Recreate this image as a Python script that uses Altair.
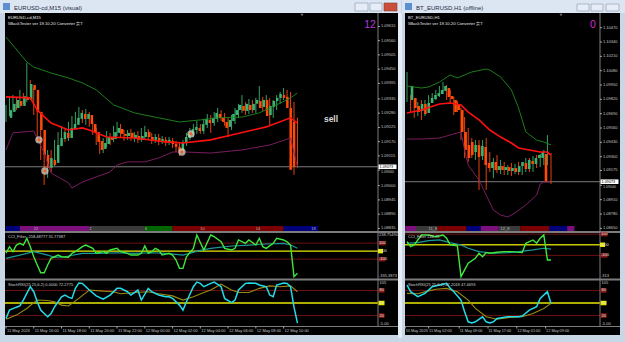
import altair as alt
import pandas as pd

# ======================= DATA =======================
# ---- left window: EURUSD-cd, M15 (bar 0 = 11 May 2023 14:00) ----
L_open = [1.09262, 1.09285, 1.09300, 1.09327, 1.09308, 1.09343, 1.09331, 1.09389, 1.09370, 1.09285,
          1.09215, 1.09119, 1.09069, 1.09099, 1.09088, 1.09153, 1.09180, 1.09204, 1.09184, 1.09219,
          1.09235, 1.09258, 1.09277, 1.09258, 1.09273, 1.09238, 1.09207, 1.09173, 1.09142, 1.09161,
          1.09188, 1.09180, 1.09204, 1.09219, 1.09200, 1.09192, 1.09204, 1.09184, 1.09192, 1.09177,
          1.09188, 1.09207, 1.09188, 1.09177, 1.09184, 1.09173, 1.09177, 1.09169, 1.09173, 1.09161,
          1.09150, 1.09134, 1.09165, 1.09184, 1.09200, 1.09215, 1.09223, 1.09211, 1.09235, 1.09254,
          1.09242, 1.09258, 1.09277, 1.09262, 1.09246, 1.09227, 1.09250, 1.09273, 1.09292, 1.09308,
          1.09289, 1.09312, 1.09292, 1.09316, 1.09327, 1.09304, 1.09331, 1.09273, 1.09304, 1.09327,
          1.09339, 1.09350, 1.09343, 1.09300, 1.09246]
L_high = [1.09312, 1.09339, 1.09350, 1.09343, 1.09370, 1.09358, 1.09474, 1.09408, 1.09377, 1.09300,
          1.09223, 1.09177, 1.09138, 1.09138, 1.09177, 1.09207, 1.09231, 1.09223, 1.09246, 1.09269,
          1.09285, 1.09304, 1.09292, 1.09296, 1.09285, 1.09250, 1.09223, 1.09188, 1.09184, 1.09211,
          1.09204, 1.09231, 1.09246, 1.09238, 1.09215, 1.09215, 1.09219, 1.09207, 1.09211, 1.09223,
          1.09231, 1.09219, 1.09204, 1.09200, 1.09200, 1.09192, 1.09188, 1.09188, 1.09184, 1.09173,
          1.09165, 1.09177, 1.09204, 1.09223, 1.09238, 1.09250, 1.09238, 1.09258, 1.09277, 1.09273,
          1.09285, 1.09300, 1.09292, 1.09281, 1.09262, 1.09273, 1.09300, 1.09316, 1.09350, 1.09323,
          1.09335, 1.09331, 1.09339, 1.09385, 1.09343, 1.09350, 1.09339, 1.09331, 1.09350, 1.09362,
          1.09377, 1.09370, 1.09362, 1.09323, 1.09262]
L_low = [1.09246, 1.09269, 1.09292, 1.09292, 1.09300, 1.09316, 1.09323, 1.09346, 1.09273, 1.09169,
         1.09099, 1.09003, 1.09030, 1.09053, 1.09076, 1.09138, 1.09169, 1.09169, 1.09173, 1.09204,
         1.09223, 1.09246, 1.09242, 1.09235, 1.09227, 1.09196, 1.09157, 1.09123, 1.09126, 1.09150,
         1.09157, 1.09169, 1.09192, 1.09184, 1.09173, 1.09177, 1.09173, 1.09169, 1.09165, 1.09169,
         1.09177, 1.09177, 1.09161, 1.09165, 1.09157, 1.09161, 1.09153, 1.09157, 1.09146, 1.09130,
         1.09115, 1.09123, 1.09153, 1.09177, 1.09188, 1.09200, 1.09200, 1.09200, 1.09223, 1.09204,
         1.09231, 1.09246, 1.09250, 1.09231, 1.09188, 1.09215, 1.09238, 1.09262, 1.09281, 1.09273,
         1.09277, 1.09281, 1.09281, 1.09300, 1.09289, 1.09292, 1.09231, 1.09262, 1.09292, 1.09316,
         1.09331, 1.09316, 1.09285, 1.09042, 1.09069]
L_close = [1.09292, 1.09316, 1.09331, 1.09308, 1.09346, 1.09331, 1.09393, 1.09370, 1.09285, 1.09215,
           1.09119, 1.09069, 1.09107, 1.09080, 1.09157, 1.09184, 1.09207, 1.09184, 1.09223, 1.09238,
           1.09262, 1.09281, 1.09258, 1.09277, 1.09238, 1.09207, 1.09169, 1.09138, 1.09165, 1.09188,
           1.09177, 1.09207, 1.09223, 1.09200, 1.09192, 1.09204, 1.09184, 1.09196, 1.09177, 1.09192,
           1.09207, 1.09188, 1.09177, 1.09188, 1.09173, 1.09180, 1.09169, 1.09177, 1.09161, 1.09150,
           1.09134, 1.09165, 1.09188, 1.09200, 1.09219, 1.09227, 1.09211, 1.09238, 1.09258, 1.09242,
           1.09262, 1.09281, 1.09262, 1.09246, 1.09223, 1.09254, 1.09277, 1.09292, 1.09312, 1.09289,
           1.09316, 1.09292, 1.09316, 1.09331, 1.09300, 1.09331, 1.09269, 1.09308, 1.09327, 1.09339,
           1.09354, 1.09339, 1.09300, 1.09061, 1.09073]

L_ma_idx = [0, 7, 9, 12, 13, 18, 22, 24, 29, 37, 46, 51, 59, 65, 75, 82, 84]
L_ma_val = [1.09343, 1.09339, 1.09292, 1.09254, 1.09242, 1.09215, 1.09223, 1.09215, 1.09188, 1.09184,
            1.09169, 1.09165, 1.09177, 1.09196, 1.09227, 1.09262, 1.09242]
L_up_idx = [0, 6, 8, 13, 18, 22, 26, 31, 37, 44, 50, 56, 61, 68, 73, 79, 82, 84]
L_up_val = [1.09574, 1.09478, 1.09458, 1.09435, 1.09416, 1.09397, 1.09370, 1.09312, 1.09281, 1.09262,
            1.09246, 1.09254, 1.09262, 1.09265, 1.09281, 1.09319, 1.09339, 1.09358]
L_lo_idx = [0, 2, 8, 11, 13, 18, 19, 22, 26, 30, 32, 35, 40, 44, 48, 52, 59, 68, 76, 82, 84]
L_lo_val = [1.09138, 1.09204, 1.09211, 1.09126, 1.09049, 1.09011, 1.08991, 1.09014, 1.09034, 1.09053,
            1.09080, 1.09092, 1.09092, 1.09107, 1.09130, 1.09130, 1.09126, 1.09138, 1.09157, 1.09184, 1.09072]
L_sig_idx = [9.5, 11.2, 50.7, 53.3]
L_sig_val = [1.09177, 1.09057, 1.09130, 1.09200]

L_cci_idx = [0, 1, 2, 3, 4, 5, 6, 7, 8, 9, 10, 11, 12, 13, 15, 16, 18, 19, 20, 22, 23, 25, 26, 28, 29, 30,
             32, 33, 35, 36, 38, 39, 40, 41, 42, 43, 44, 45, 47, 48, 49, 50, 51, 52, 54, 55, 56, 57, 59, 60,
             62, 63, 65, 66, 67, 69, 70, 72, 73, 74, 75, 77, 78, 80, 81, 82, 83, 84]
L_cci_val = [-27, 55, -7, 76, 97, 76, 160, 55, -70, -173, -270, -270, -173, -90, -49, -70, -77, -27, -7, 55,
             76, 35, -27, -7, -27, 14, 35, -7, -27, -49, -49, -27, 64, -27, -7, 35, 14, -49, -27, -49,
             -111, -215, -215, -70, 35, 201, 107, 14, 201, 180, 117, 35, 14, 35, 139, 97, 139, 76, 160, 55,
             35, 97, 160, 139, 117, 76, -319, -277]
L_cma_idx = [0, 4, 8, 12, 14, 17, 22, 27, 32, 37, 42, 46, 51, 56, 59, 65, 70, 75, 80, 82, 84]
L_cma_val = [-90, -49, -7, -49, -77, -70, -27, -27, -20, -27, -20, -27, -49, 10, 35, 64, 76, 89, 97, 76, 35]

L_st_idx = [0, 1, 3, 4, 5, 6, 7, 8, 9, 10, 12, 13, 14, 16, 17, 18, 19, 20, 21, 22, 24, 26, 28, 30, 32, 33,
            35, 36, 38, 39, 41, 42, 44, 46, 47, 48, 49, 50, 51, 52, 54, 55, 56, 57, 59, 60, 62, 63, 65, 66,
            67, 69, 70, 72, 73, 75, 76, 77, 78, 80, 81, 82, 83, 84]
L_st_val = [13, 33, 40, 43, 57, 73, 89, 77, 53, 33, 17, 25, 41, 65, 69, 64, 61, 85, 98, 97, 81, 67, 59, 69,
            85, 85, 77, 69, 81, 57, 85, 77, 69, 65, 65, 61, 53, 45, 33, 53, 89, 100, 97, 89, 97, 100, 89,
            61, 51, 57, 81, 97, 98, 97, 93, 89, 69, 65, 93, 98, 97, 89, 40, 2]
L_ss_idx = [0, 3, 6, 8, 9, 12, 14, 16, 18, 21, 24, 27, 31, 33, 37, 41, 44, 48, 51, 54, 57, 59, 62, 65, 67,
            70, 73, 76, 79, 82, 84]
L_ss_val = [11, 21, 37, 51, 57, 56, 53, 45, 43, 61, 81, 79, 77, 72, 75, 77, 72, 67, 57, 65, 75, 81, 95, 81,
            75, 75, 85, 91, 89, 91, 77]

L_band_start = [0, 4, 24, 40, 48, 80]
L_band_end = [4, 24, 40, 48, 80, 90]
L_band_name = ["NY late", "Asia", "Asia quiet", "EU open", "EU", "NY"]
L_band_lab_idx = [8, 24, 40, 56, 72, 88]
L_band_lab = ["22", "2", "6", "10", "14", "18"]

L_time_idx = [0, 8, 16, 24, 32, 40, 48, 56, 64, 72, 80]
L_time_lab = ["11 May 2023", "11 May 16:00", "11 May 18:00", "11 May 20:00", "11 May 22:00",
              "12 May 00:00", "12 May 02:00", "12 May 04:00", "12 May 06:00", "12 May 08:00", "12 May 10:00"]
L_price_ticks = [1.09615, 1.09560, 1.09505, 1.09450, 1.09395, 1.09335, 1.09280, 1.09225, 1.09170,
                 1.09115, 1.09000, 1.08945, 1.08890, 1.08835]
L_price_near_last = [1.09060]

# ---- right window: BT_EURUSD, H1 (offline) ----
R_open = [1.09814, 1.09832, 1.09760, 1.09714, 1.09778, 1.09696, 1.09787, 1.09823, 1.09850, 1.09868,
          1.09896, 1.09923, 1.09850, 1.09814, 1.09778, 1.09723, 1.09524, 1.09406, 1.09433, 1.09342,
          1.09406, 1.09306, 1.09388, 1.09243, 1.09197, 1.09252, 1.09179, 1.09215, 1.09179, 1.09206,
          1.09170, 1.09197, 1.09161, 1.09215, 1.09243, 1.09188, 1.09261, 1.09234, 1.09288, 1.09288,
          1.09324]
R_high = [1.10068, 1.09859, 1.09814, 1.09796, 1.09814, 1.09814, 1.09859, 1.09877, 1.09905, 1.09941,
          1.09977, 1.09950, 1.09905, 1.09841, 1.09805, 1.09741, 1.09660, 1.09560, 1.09469, 1.09451,
          1.09451, 1.09451, 1.09469, 1.09342, 1.09288, 1.09315, 1.09270, 1.09252, 1.09224, 1.09243,
          1.09234, 1.09252, 1.09234, 1.09288, 1.09288, 1.09306, 1.09315, 1.09324, 1.09361, 1.09496,
          1.09333]
R_low = [1.09796, 1.09705, 1.09651, 1.09669, 1.09633, 1.09669, 1.09760, 1.09787, 1.09814, 1.09841,
         1.09868, 1.09814, 1.09787, 1.09678, 1.09705, 1.09451, 1.09288, 1.09252, 1.09288, 1.09270,
         1.08998, 1.09270, 1.08998, 1.09161, 1.09107, 1.09152, 1.09143, 1.09134, 1.09134, 1.09125,
         1.09143, 1.09134, 1.09134, 1.09161, 1.09161, 1.09161, 1.09197, 1.09206, 1.09224, 1.09224,
         1.09052]
R_close = [1.09941, 1.09741, 1.09705, 1.09778, 1.09687, 1.09787, 1.09832, 1.09859, 1.09877, 1.09905,
           1.09941, 1.09841, 1.09823, 1.09705, 1.09723, 1.09524, 1.09361, 1.09288, 1.09315, 1.09406,
           1.09297, 1.09397, 1.09224, 1.09197, 1.09252, 1.09179, 1.09215, 1.09179, 1.09206, 1.09170,
           1.09197, 1.09161, 1.09215, 1.09252, 1.09188, 1.09270, 1.09234, 1.09288, 1.09315, 1.09342,
           1.09073]

R_ma_idx = [0, 4, 9, 12, 15, 17, 20, 23, 26, 29, 31, 34, 37, 39, 40]
R_ma_val = [1.09696, 1.09723, 1.09778, 1.09787, 1.09769, 1.09705, 1.09633, 1.09542, 1.09478, 1.09424,
            1.09379, 1.09361, 1.09342, 1.09342, 1.09315]
R_up_idx = [0, 4, 6, 9, 12, 14, 18, 22, 23, 26, 29, 31, 33, 36, 38, 40]
R_up_val = [1.09941, 1.09923, 1.09932, 1.09977, 1.10041, 1.10014, 1.10068, 1.10095, 1.10086, 1.10023,
            1.09905, 1.09741, 1.09524, 1.09451, 1.09433, 1.09406]
R_lo_idx = [0, 4, 9, 13, 15, 16, 17, 20, 22, 24, 26, 28, 30, 33, 36, 37, 38, 40]
R_lo_val = [1.09460, 1.09460, 1.09469, 1.09506, 1.09524, 1.09361, 1.09224, 1.09088, 1.08952, 1.08816,
            1.08771, 1.08753, 1.08789, 1.08862, 1.08952, 1.09052, 1.09070, 1.09070]

R_cci_idx = [0, 1, 2, 3, 4, 6, 8, 10, 11, 12, 14, 15, 16, 17, 19, 20, 21, 22, 23, 25, 27, 29, 32, 33, 35,
             36, 37, 38, 39, 40]
R_cci_val = [29, -18, -2, 45, 92, 92, 76, 92, 61, -2, -11, -300, -237, -174, -127, -80, -112, -74, -80,
             -70, -65, -65, -74, 14, 45, 14, 61, 92, -143, -143]
R_cma_idx = [0, 3, 6, 9, 12, 15, 17, 20, 24, 28, 31, 35, 38, 40]
R_cma_val = [14, 20, 39, 45, 20, -2, -33, -65, -80, -74, -65, -49, -33, -42]

R_st_idx = [0, 1, 3, 5, 7, 9, 11, 12, 13, 15, 16, 17, 18, 19, 21, 22, 23, 24, 25, 28, 31, 32, 34, 36, 37,
            39, 40]
R_st_val = [93, 77, 65, 73, 89, 93, 97, 85, 77, 57, 29, 5, 2, 5, 17, 5, 2, 5, 13, 17, 17, 19, 33, 41, 61,
            77, 49]
R_ss_idx = [0, 3, 6, 8, 11, 14, 17, 19, 22, 25, 29, 32, 35, 38, 40]
R_ss_val = [73, 72, 79, 83, 85, 77, 57, 37, 17, 11, 16, 17, 25, 37, 49]

R_band_start = [-0.5, 2.5, 8.5, 16.5, 20.5, 25.5, 31.5, 39.5, 44.5]
R_band_end = [2.5, 8.5, 16.5, 20.5, 25.5, 31.5, 39.5, 44.5, 46.5]
R_band_name = ["Asia", "Asia quiet", "EU", "NY", "Asia", "Asia quiet", "EU", "NY", "Asia"]
R_band_lab_idx = [6.0, 26.0]
R_band_lab = ["11_8", "12_8"]

R_time_idx = [-0.5, 6, 14.5, 22.5, 30.5, 38.5]
R_time_lab = ["10 May 2023", "11 May 02:00", "11 May 09:00", "11 May 17:00", "12 May 01:00", "12 May 09:00"]
R_price_ticks = [1.10470, 1.10340, 1.10210, 1.10080, 1.09950, 1.09820, 1.09690, 1.09560, 1.09430,
                 1.09300, 1.09175, 1.08910, 1.08780, 1.08650]
R_price_near_last = [1.09040]

LAST_PRICE = 1.09073
CCI_LEVELS = [100, 0, -100]
ST_LEVELS = [80, 50, 20]

# ======================= STYLE =======================
FONT = "Liberation Sans"
BULL, BEAR = "#3cb371", "#ff4a0a"
SESS_DOM = ["NY late", "Asia", "Asia quiet", "EU open", "EU", "NY"]
SESS_RNG = ["#00007a", "#7d0f7d", "#3a3a3a", "#006400", "#7d0000", "#00007a"]
ONE = pd.DataFrame({"k": [0]})


def sc(dom, rng):
    return alt.Scale(domain=dom, range=rng, nice=False, zero=False)


LX = sc([0, 100], [6, 353])
RX = sc([0, 40], [407, 551])
LP = sc([1.08825, 1.09663], [231, 14])
RP = sc([1.08626, 1.10594], [231, 14])
LC = sc([-335.39, 238.75], [278, 232])
RC = sc([-313, 120], [278, 232])
LS = sc([-5, 105], [326, 280])
RS = sc([-5, 105], [326, 280])


def rect(x1, x2, y1, y2, fill, stroke=None):
    kw = {"fill": fill}
    if stroke:
        kw.update(stroke=stroke, strokeWidth=0.6)
    return alt.Chart(ONE).mark_rect(**kw).encode(
        x=alt.value(x1), x2=alt.value(x2), y=alt.value(y1), y2=alt.value(y2))


def txt(s, x, y, color, size, align="left", weight="normal"):
    return alt.Chart(ONE).mark_text(text=s, color=color, fontSize=size, align=align, baseline="middle",
                                    fontWeight=weight, font=FONT).encode(x=alt.value(x), y=alt.value(y))


def candles(o, h, l, c, xs, ys, width):
    df = pd.DataFrame({"i": list(range(len(o))), "o": o, "h": h, "l": l, "c": c})
    col = alt.condition("datum.c >= datum.o", alt.value(BULL), alt.value(BEAR))
    base = alt.Chart(df).encode(x=alt.X("i:Q", scale=xs, axis=None), color=col)
    wick = base.mark_rule(strokeWidth=0.9).encode(y=alt.Y("l:Q", scale=ys, axis=None), y2="h:Q")
    body = base.mark_bar(size=width).encode(y=alt.Y("o:Q", scale=ys, axis=None), y2="c:Q")
    return [wick, body]


def line(idx, val, xs, ys, color, width):
    df = pd.DataFrame({"i": idx, "v": val})
    return alt.Chart(df).mark_line(color=color, strokeWidth=width, interpolate="linear").encode(
        x=alt.X("i:Q", scale=xs, axis=None), y=alt.Y("v:Q", scale=ys, axis=None))


def hrule(vals, ys, x1, x2, color, width):
    df = pd.DataFrame({"v": vals})
    return alt.Chart(df).mark_rule(color=color, strokeWidth=width).encode(
        y=alt.Y("v:Q", scale=ys, axis=None), x=alt.value(x1), x2=alt.value(x2))


def ylabels(vals, texts, ys, x, color, size, dy=0):
    df = pd.DataFrame({"v": vals, "t": texts})
    return alt.Chart(df).mark_text(align="left", baseline="middle", fontSize=size, color=color,
                                   font=FONT, dy=dy).encode(
        y=alt.Y("v:Q", scale=ys, axis=None), x=alt.value(x), text="t:N")


def ybox(vals, ys, xc, w, h, color):
    r = h / w
    path = f"M-1,-{r:.3f}L1,-{r:.3f}L1,{r:.3f}L-1,{r:.3f}Z"
    df = pd.DataFrame({"v": vals})
    return alt.Chart(df).mark_point(shape=path, size=w * w, filled=True, color=color, opacity=1).encode(
        y=alt.Y("v:Q", scale=ys, axis=None), x=alt.value(xc))


def yticks(vals, ys, x1, x2, color):
    df = pd.DataFrame({"v": vals})
    return alt.Chart(df).mark_rule(color=color, strokeWidth=0.8).encode(
        y=alt.Y("v:Q", scale=ys, axis=None), x=alt.value(x1), x2=alt.value(x2))


def xlabels(idx, texts, xs, y, color, size, dx=1):
    df = pd.DataFrame({"i": idx, "t": texts})
    return alt.Chart(df).mark_text(align="left", baseline="middle", fontSize=size, color=color,
                                   font=FONT, dx=dx).encode(
        x=alt.X("i:Q", scale=xs, axis=None), y=alt.value(y), text="t:N")


def xticks(idx, xs, y1, y2, color):
    df = pd.DataFrame({"i": idx})
    return alt.Chart(df).mark_rule(color=color, strokeWidth=0.8).encode(
        x=alt.X("i:Q", scale=xs, axis=None), y=alt.value(y1), y2=alt.value(y2))


def band(starts, ends, names, xs, y1, y2):
    df = pd.DataFrame({"s": starts, "e": ends, "n": names})
    return alt.Chart(df).mark_rect().encode(
        x=alt.X("s:Q", scale=xs, axis=None), x2="e:Q", y=alt.value(y1), y2=alt.value(y2),
        color=alt.Color("n:N", scale=alt.Scale(domain=SESS_DOM, range=SESS_RNG), legend=None))


def dots(idx, val, xs, ys):
    df = pd.DataFrame({"i": idx, "v": val})
    b = alt.Chart(df).encode(x=alt.X("i:Q", scale=xs, axis=None), y=alt.Y("v:Q", scale=ys, axis=None))
    return [b.mark_circle(size=55, color="#d8d2c8", opacity=0.75),
            b.mark_circle(size=8, color="#ff5a1a", opacity=1)]


layers = []
# ---------- window chrome ----------
layers += [
    rect(0, 401, 0, 13, "#dce6f2"), rect(402, 625, 0, 13, "#dce6f2"),
    rect(3, 10, 3, 10, "#5b8fcf"), rect(405, 412, 3, 10, "#5b8fcf"),
    txt("EURUSD-cd,M15 (visual)", 14, 7.5, "#1e2d44", 6),
    txt("BT_EURUSD,H1 (offline)", 416, 7.5, "#1e2d44", 6),
    rect(355, 368, 3, 11, "#e6edf6", "#8797ad"), rect(370, 382, 3, 11, "#e6edf6", "#8797ad"),
    rect(384, 397, 3, 11, "#c94f3a", "#8a3a2c"),
    rect(577, 589, 4, 11, "#e6edf6", "#8797ad"), rect(591, 603, 4, 11, "#e6edf6", "#8797ad"),
    rect(606, 619, 4, 11, "#e6edf6", "#8797ad"),
    rect(398, 402, 13, 338, "#e6edf5"),
    rect(5, 398, 13, 335, "#000000"), rect(405, 620, 13, 335, "#000000"),
]

# ---------- session colour bands ----------
layers += [band(L_band_start, L_band_end, L_band_name, LX, 226, 231),
           band(R_band_start, R_band_end, R_band_name, RX, 226, 231),
           xlabels(L_band_lab_idx, L_band_lab, LX, 228.5, "#bbbbbb", 4, dx=0),
           xlabels(R_band_lab_idx, R_band_lab, RX, 228.5, "#bbbbbb", 4, dx=0)]

# ---------- indicator levels ----------
layers += [
    hrule([100, -100], LC, 5, 378, "#701010", 1), hrule([0], LC, 5, 378, "#e8e800", 1.3),
    hrule([80, 20], LS, 5, 378, "#701010", 1), hrule([50], LS, 5, 378, "#e8e800", 1.3),
    hrule([100, -100], RC, 405, 600, "#701010", 1), hrule([0], RC, 405, 600, "#c8c800", 1.3),
    hrule([80, 20], RS, 405, 600, "#701010", 1), hrule([50], RS, 405, 600, "#e8e800", 1.3),
    hrule([LAST_PRICE], LP, 5, 378, "#8a8a8a", 0.9), hrule([LAST_PRICE], RP, 405, 600, "#8a8a8a", 0.9),
]

# ---------- price charts ----------
layers += candles(L_open, L_high, L_low, L_close, LX, LP, 2.5)
layers += candles(R_open, R_high, R_low, R_close, RX, RP, 2.6)
layers += [
    line(L_up_idx, L_up_val, LX, LP, "#1f8a1f", 0.9),
    line(L_lo_idx, L_lo_val, LX, LP, "#86206a", 0.9),
    line(L_ma_idx, L_ma_val, LX, LP, "#ff1010", 1.6),
    line(R_up_idx, R_up_val, RX, RP, "#1f8a1f", 0.9),
    line(R_lo_idx, R_lo_val, RX, RP, "#86206a", 0.9),
    line(R_ma_idx, R_ma_val, RX, RP, "#ff1010", 1.6),
]
layers += dots(L_sig_idx, L_sig_val, LX, LP)

# ---------- CCI / StochRSI ----------
layers += [
    line(L_cma_idx, L_cma_val, LX, LC, "#1a9a9a", 1.2),
    line(L_cci_idx, L_cci_val, LX, LC, "#3ee83e", 1.4),
    line(L_ss_idx, L_ss_val, LX, LS, "#9a8a10", 1.1),
    line(L_st_idx, L_st_val, LX, LS, "#22dcea", 1.5),
    line(R_cma_idx, R_cma_val, RX, RC, "#1a9a9a", 1.2),
    line(R_cci_idx, R_cci_val, RX, RC, "#3ee83e", 1.4),
    line(R_ss_idx, R_ss_val, RX, RS, "#9a8a10", 1.1),
    line(R_st_idx, R_st_val, RX, RS, "#22dcea", 1.5),
]

# ---------- separators & axis lines ----------
layers += [
    rect(5, 398, 231, 233, "#7c7c7c"), rect(5, 398, 278.5, 280.5, "#7c7c7c"),
    rect(5, 398, 326, 327, "#7c7c7c"),
    rect(405, 620, 231, 233, "#7c7c7c"), rect(405, 620, 278.5, 280.5, "#7c7c7c"),
    rect(405, 620, 326, 327, "#7c7c7c"),
    rect(377.5, 378.5, 13, 327, "#7c7c7c"), rect(599.5, 600.5, 13, 327, "#7c7c7c"),
]

# ---------- price axes ----------
GREY = "#c8c8c8"
layers += [
    yticks(L_price_ticks + L_price_near_last, LP, 378, 380, GREY),
    ylabels(L_price_ticks, [f"{v:.5f}" for v in L_price_ticks], LP, 381, GREY, 4),
    ylabels(L_price_near_last, [f"{v:.5f}" for v in L_price_near_last], LP, 381, GREY, 3.6, dy=1.8),
    yticks(R_price_ticks + R_price_near_last, RP, 600, 602, GREY),
    ylabels(R_price_ticks, [f"{v:.5f}" for v in R_price_ticks], RP, 603, GREY, 4),
    ylabels(R_price_near_last, [f"{v:.5f}" for v in R_price_near_last], RP, 603, GREY, 3.6, dy=1.8),
    ybox([LAST_PRICE], LP, 387.5, 18, 4.6, "#ffffff"),
    ylabels([LAST_PRICE], [f"{LAST_PRICE:.5f}"], LP, 379.5, "#000000", 3.8),
    ybox([LAST_PRICE], RP, 609.5, 18, 4.6, "#ffffff"),
    ylabels([LAST_PRICE], [f"{LAST_PRICE:.5f}"], RP, 601.5, "#000000", 3.8),
]
# CCI axes
layers += [
    ybox([100, -100], LC, 382, 7, 4.5, "#8a1818"), ybox([0], LC, 380.5, 5, 4.5, "#e8e800"),
    ylabels([100, 0, -100], ["100", "0.00", "-100"], LC, 379, "#e0e0e0", 4),
    ylabels([238.75], ["238.75490"], LC, 379, GREY, 4, dy=2.5),
    ylabels([-335.39], ["-335.3873"], LC, 379, GREY, 4, dy=-2.5),
    ybox([100, -100], RC, 604, 7, 4.5, "#8a1818"), ybox([0], RC, 602.5, 5, 4.5, "#e8e800"),
    ylabels([100, 0, -100], ["100", "0.00", "-100"], RC, 601, "#e0e0e0", 4),
    ylabels([-313], ["-313"], RC, 601, GREY, 4, dy=-2.5),
]
# Stoch axes
layers += [
    ybox([80, 20], LS, 381.5, 6, 4.5, "#8a1818"), ybox([50], LS, 381.5, 6, 4.5, "#e8e800"),
    ylabels([80, 50, 20], ["80", "50", "20"], LS, 379.5, "#e0e0e0", 4),
    ylabels([105], ["105"], LS, 379.5, GREY, 4, dy=2.5),
    ylabels([-5], ["-5.00"], LS, 379.5, GREY, 4, dy=-2),
    ybox([80, 20], RS, 603.5, 6, 4.5, "#8a1818"), ybox([50], RS, 603.5, 6, 4.5, "#e8e800"),
    ylabels([80, 50, 20], ["80", "50", "20"], RS, 601.5, "#e0e0e0", 4),
    ylabels([105], ["105"], RS, 601.5, GREY, 4, dy=2.5),
    ylabels([-5], ["-5.00"], RS, 601.5, GREY, 4, dy=-2),
]
# time axes
layers += [
    xticks(L_time_idx, LX, 326.5, 328.5, GREY),
    xlabels(L_time_idx, L_time_lab, LX, 330.5, GREY, 4.0),
    xticks(R_time_idx, RX, 326.5, 328.5, GREY),
    xlabels(R_time_idx, R_time_lab, RX, 330.5, GREY, 3.8, dx=0.5),
]

# ---------- texts inside charts ----------
layers += [
    txt("EURUSD-cd,M15", 8, 17.5, "#e8e8e8", 4.2),
    txt("5BackTester   ver 19.10.20   Converter   実T", 8, 24, "#e8e8e8", 4.2),
    txt("BT_EURUSD,H1", 408, 17.5, "#e8e8e8", 4.2),
    txt("5BackTester   ver 19.10.20   Converter   実T", 408, 24, "#e8e8e8", 4.2),
    txt("12", 370, 25, "#b43ad8", 10.5, align="center"),
    txt("0", 593, 25, "#d62bd6", 10.5, align="center"),
    txt("sell", 331, 119, "#d8d8d8", 8.5, align="center", weight="bold"),
    txt("CCI_Filter -258.48777 31.77387", 8, 236.5, "#d0d0d0", 4),
    txt("StochRSI(25 25,6,2) 0.0000 72.2775", 8, 284.5, "#d0d0d0", 4),
    txt("CCI_Filter 134.75", 408, 236.5, "#d0d0d0", 4),
    txt("StochRSI(25 25,6,2) 47.2018 47.4693", 408, 284.5, "#d0d0d0", 4),
    alt.Chart(ONE).mark_point(shape="triangle-down", size=10, filled=True, color="#a0a0a0").encode(
        x=alt.value(302), y=alt.value(15)),
    alt.Chart(ONE).mark_point(shape="triangle-down", size=10, filled=True, color="#a0a0a0").encode(
        x=alt.value(561), y=alt.value(15)),
]

chart = alt.layer(*layers).resolve_scale(
    x="independent", y="independent", color="independent"
).properties(
    width=625, height=342, padding=0, autosize="none", background="#c9d6e5"
).configure_view(strokeWidth=0)

chart.save("out.html", embed_options={"renderer": "svg", "actions": False})
